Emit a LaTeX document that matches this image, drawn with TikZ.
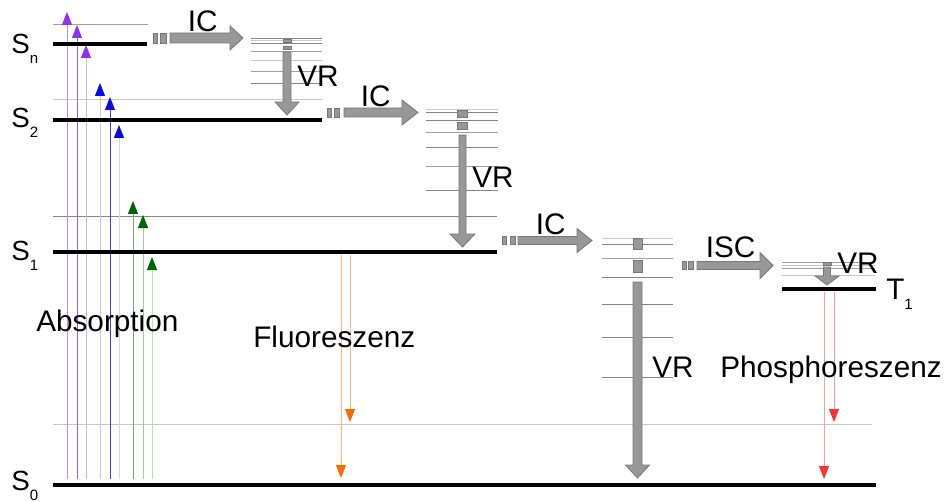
\documentclass[tikz,border=0pt]{standalone}
\usepackage{fontspec}
\setmainfont{Liberation Sans}
\usetikzlibrary{arrows.meta}
\definecolor{blkfill}{HTML}{989898}
\definecolor{blkline}{HTML}{787878}
\definecolor{lvl}{HTML}{A0A0A0}
\definecolor{lvllight}{HTML}{C8C8C8}
\definecolor{lvldark}{HTML}{858585}
\definecolor{violetH}{HTML}{9030F0}
\definecolor{blueH}{HTML}{0A0AE6}
\definecolor{greenH}{HTML}{006400}
\definecolor{orangeH}{HTML}{FF6A00}
\definecolor{redH}{HTML}{FF3030}
\definecolor{lnPa}{HTML}{B890F8}
\definecolor{lnPb}{HTML}{9A60F0}
\definecolor{lnPc}{HTML}{D0B4F8}
\definecolor{lnBa}{HTML}{C4C8EC}
\definecolor{lnBb}{HTML}{4040E0}
\definecolor{lnBc}{HTML}{D8D8F4}
\definecolor{lnGa}{HTML}{70B070}
\definecolor{lnGb}{HTML}{98D498}
\definecolor{lnGc}{HTML}{B0E4B0}
\definecolor{lnO}{HTML}{FFB478}
\definecolor{lnR}{HTML}{FF9C9C}
\tikzset{
  grundlinie/.style={line width=3.4pt, draw=black},
  vibline/.style={line width=0.75pt, draw=#1},
  blk/.style={fill=blkfill, draw=blkline, line width=0.6pt},
  emit/.style 2 args={draw=#1, line width=0.75pt, -{Triangle[width=7.5pt,length=9.75pt,color=#2]}},
  lbl/.style={font=\fontsize{22.3}{26}\selectfont, inner sep=0pt, anchor=base west},
  slbl/.style={font=\fontsize{20.8}{24}\selectfont, inner sep=0pt, anchor=base west},
}
\newcommand\subtxt[1]{\raisebox{-7.5pt}{\fontsize{11.25}{13}\selectfont #1}}
\newcommand\hblk[6]{\filldraw[blk] (#1,#4-#5) -- (#2,#4-#5) -- (#2,#4-#6) -- (#3,#4) -- (#2,#4+#6) -- (#2,#4+#5) -- (#1,#4+#5) -- cycle;}
\newcommand\vblk[6]{\filldraw[blk] (#1-#5,#2) -- (#1-#5,#3) -- (#1-#6,#3) -- (#1,#4) -- (#1+#6,#3) -- (#1+#5,#3) -- (#1+#5,#2) -- cycle;}
\begin{document}
\begin{tikzpicture}[x=0.75pt,y=-0.75pt]
\useasboundingbox (0,0) rectangle (948,502);
% upper thin lines
\draw[vibline=lvl] (53,25) -- (148,25);
\draw[vibline=lvllight] (53,100) -- (322,100);
\draw[vibline=lvldark] (53,217) -- (497,217);
\draw[vibline=lvllight] (53,424) -- (872,424);
% vibrational groups
\foreach \y/\c in {39/lvldark,41/lvllight,43.5/lvldark,52/lvl,61/lvllight,72/lvl,84/lvldark}
  \draw[vibline=\c] (251,\y) -- (322,\y);
\foreach \y/\c in {110/lvllight,113/lvldark,121/lvldark,133/lvl,148/lvldark,167/lvl,191/lvldark}
  \draw[vibline=\c] (426,\y) -- (498,\y);
\foreach \y/\c in {238/lvllight,244/lvldark,258/lvl,277/lvldark,304/lvldark,337/lvldark,377/lvldark}
  \draw[vibline=\c] (602,\y) -- (673,\y);
\foreach \y/\c in {262/lvl,265/lvllight,268/lvl,275/lvllight}
  \draw[vibline=\c] (782,\y) -- (875,\y);
% absorption
\draw[emit={lnPa}{violetH}] (67,479) -- (67,12);
\draw[emit={lnPb}{violetH}] (77,479) -- (77,25);
\draw[emit={lnPc}{violetH}] (86,479) -- (86,45);
\draw[emit={lnBa}{blueH}] (100,479) -- (100,83);
\draw[emit={lnBb}{blueH}] (110,479) -- (110,97);
\draw[emit={lnBc}{blueH}] (119,479) -- (119,125);
\draw[emit={lnGa}{greenH}] (133,479) -- (133,201);
\draw[emit={lnGb}{greenH}] (143,479) -- (143,215);
\draw[emit={lnGc}{greenH}] (152,479) -- (152,257);
% fluorescence / phosphorescence
\draw[emit={lnO}{orangeH}] (341,255) -- (341,478);
\draw[emit={lnO}{orangeH}] (350,255) -- (350,422);
\draw[emit={lnR}{redH}] (824,292) -- (824,479);
\draw[emit={lnR}{redH}] (834,292) -- (834,422);
% electronic levels
\draw[grundlinie] (53,44) -- (147,44);
\draw[grundlinie] (53,120) -- (322,120);
\draw[grundlinie] (53,252) -- (497,252);
\draw[grundlinie] (53,485) -- (876,485);
\draw[grundlinie] (782,289) -- (876,289);
% level labels
\node[slbl] (sn) at (11,54) {S\subtxt{n}};
\node[slbl] (s2) at (11,128) {S\subtxt{2}};
\node[slbl] (s1) at (11,260) {S\subtxt{1}};
\node[slbl] (s0) at (11,490) {S\subtxt{0}};
\node[lbl] (t1) at (886,299) {T\subtxt{1}};
% IC 1
\filldraw[blk] (153,33) rectangle (157,43);
\filldraw[blk] (160,33) rectangle (166,43);
\hblk{170}{230}{243}{38}{5}{12}
% IC 2
\filldraw[blk] (327,108) rectangle (331,117);
\filldraw[blk] (334,108) rectangle (339,117);
\hblk{344}{402}{418}{112.5}{4.5}{12.5}
% IC 3
\filldraw[blk] (502,236.5) rectangle (506,244.5);
\filldraw[blk] (510,236.5) rectangle (515,244.5);
\hblk{518}{577}{592}{240.5}{4}{12}
% ISC
\filldraw[blk] (682,261.5) rectangle (686,269.5);
\filldraw[blk] (688,261.5) rectangle (693,269.5);
\hblk{697}{760}{773}{265.5}{4}{13}
% VR arrows
\filldraw[blk] (283,39) rectangle (291,42);
\filldraw[blk] (283,46) rectangle (291,49);
\vblk{287}{52}{102}{115}{4}{12}
\filldraw[blk] (457,110) rectangle (467,117);
\filldraw[blk] (457,122) rectangle (467,129);
\vblk{462.5}{135}{234}{247}{3.5}{12.5}
\filldraw[blk] (633,238) rectangle (642,249);
\filldraw[blk] (633,260) rectangle (642,272);
\vblk{637.5}{282}{465}{478}{4.5}{12}
\filldraw[blk] (823,262) rectangle (831,265);
\vblk{827}{267}{276}{285}{3.5}{12}
% process labels
\node[lbl] (ic1) at (187.5,32) {IC};
\node[lbl] (ic2) at (360.5,107) {IC};
\node[lbl] (ic3) at (535.5,234) {IC};
\node[lbl] (isc) at (705.5,257) {ISC};
\node[lbl] (vr1) at (297,87) {VR};
\node[lbl] (vr2) at (472,188) {VR};
\node[lbl] (vr3) at (652,377) {VR};
\node[lbl] (vr4) at (837,273) {VR};
\node[lbl] (absn) at (36,331) {Absorption};
\node[lbl] (fluo) at (253,347) {Fluoreszenz};
\node[lbl] (phos) at (720,377) {Phosphoreszenz};
\end{tikzpicture}
\end{document}
